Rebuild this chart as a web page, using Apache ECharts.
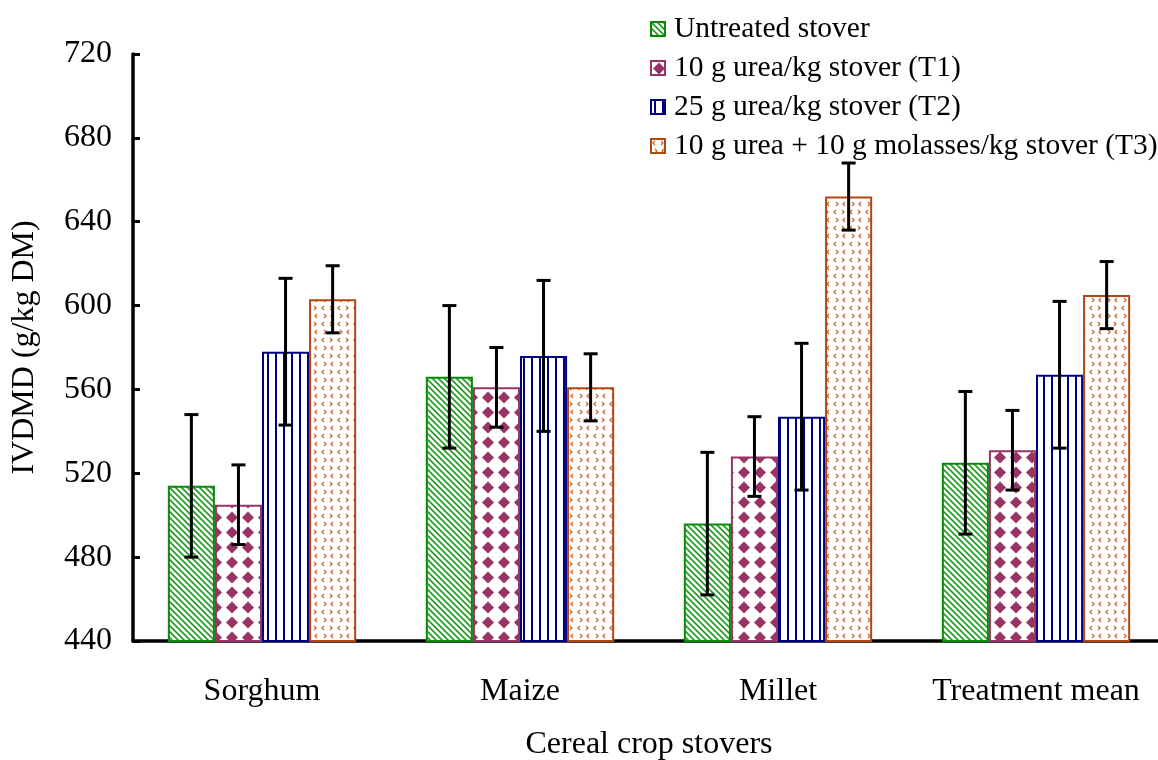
<!DOCTYPE html>
<html><head><meta charset="utf-8">
<script src="https://cdn.jsdelivr.net/npm/echarts@6/dist/echarts.min.js"></script>
<style>html,body{margin:0;padding:0;background:#fff}#c{width:1158px;height:760px}</style>
</head><body><div id="c"></div>
<script>
const categories = ['Sorghum', 'Maize', 'Millet', 'Treatment mean'];
const seriesNames = ['Untreated stover', '10 g urea/kg stover (T1)', '25 g urea/kg stover (T2)', '10 g urea + 10 g molasses/kg stover (T3)'];
const untreated = [514, 566, 496, 525];
const t1 = [505, 561, 528, 531];
const t2 = [578, 576, 547, 567];
const t3 = [603, 561, 652, 605];
const errUntreated = [34, 34, 34, 34];
const errT1 = [19, 19, 19, 19];
const errT2 = [35, 36, 35, 35];
const errT3 = [16, 16, 16, 16];
const yTicks = [440, 480, 520, 560, 600, 640, 680, 720];

const values = [untreated, t1, t2, t3];
const errors = [errUntreated, errT1, errT2, errT3];
const borderColors = ['#0a8a0a', '#993366', '#000080', '#b04610'];
const CAT_GAP = 0.27;
const FONT = '"Liberation Serif", "Times New Roman", serif';

function mk(w, h, draw) {
  const c = document.createElement('canvas');
  c.width = w; c.height = h;
  const g = c.getContext('2d');
  g.fillStyle = '#fff'; g.fillRect(0, 0, w, h);
  draw(g);
  return { image: c, repeat: 'repeat' };
}
const patterns = [
  mk(6, 6, g => {
    g.strokeStyle = '#1f9a1f'; g.lineWidth = 1.6;
    for (let k = -1; k <= 1; k++) { g.beginPath(); g.moveTo(k * 6 - 1, -1); g.lineTo(k * 6 + 7, 7); g.stroke(); }
  }),
  mk(16, 15, g => {
    g.fillStyle = '#993366';
    const dia = (cx, cy) => { g.beginPath(); g.moveTo(cx, cy - 6); g.lineTo(cx + 6, cy); g.lineTo(cx, cy + 6); g.lineTo(cx - 6, cy); g.closePath(); g.fill(); };
    dia(8, 7.5);
  }),
  mk(8, 8, g => {
    g.fillStyle = '#000080'; g.fillRect(3, 0, 2, 8);
  }),
  mk(16, 16, g => {
    g.strokeStyle = '#c8692e'; g.lineWidth = 1.3;
    const lt = (x, y) => { g.beginPath(); g.moveTo(x + 2, y - 2); g.lineTo(x, y); g.lineTo(x + 2, y + 2); g.stroke(); };
    const gt = (x, y) => { g.beginPath(); g.moveTo(x, y - 2); g.lineTo(x + 2, y); g.lineTo(x, y + 2); g.stroke(); };
    lt(2, 4); gt(10, 4); gt(4, 12); lt(11, 12);
  })
];

const series = [];
values.forEach((vals, k) => {
  series.push({
    name: seriesNames[k], type: 'bar', data: vals,
    barGap: '0%', barCategoryGap: (CAT_GAP * 100) + '%',
    itemStyle: { color: patterns[k], borderColor: borderColors[k], borderWidth: 2 },
    z: 2
  });
});
values.forEach((vals, k) => {
  series.push({
    type: 'custom', name: 'err' + k, z: 5, silent: true,
    data: vals.map((v, i) => [i, v - errors[k][i], v + errors[k][i]]),
    encode: { x: 0, y: [1, 2] },
    renderItem: (params, api) => {
      const i = api.value(0);
      const lo = api.coord([i, api.value(1)]);
      const hi = api.coord([i, api.value(2)]);
      const band = api.size([1, 0])[0];
      const bw = band * (1 - CAT_GAP) / 4;
      const x = lo[0] + (k - 1.5) * bw;
      const cap = 7;
      const st = { stroke: '#000', lineWidth: 3 };
      return { type: 'group', children: [
        { type: 'line', shape: { x1: x, y1: lo[1], x2: x, y2: hi[1] }, style: st },
        { type: 'line', shape: { x1: x - cap, y1: lo[1], x2: x + cap, y2: lo[1] }, style: st },
        { type: 'line', shape: { x1: x - cap, y1: hi[1], x2: x + cap, y2: hi[1] }, style: st }
      ]};
    }
  });
});

const chart = echarts.init(document.getElementById('c'), null, { renderer: 'canvas' });
chart.setOption({
  animation: false,
  backgroundColor: '#fff',
  textStyle: { fontFamily: FONT },
  grid: { left: 133, top: 54, bottom: 119, width: 1032, containLabel: false, outerBoundsMode: 'none' },
  legend: {
    data: seriesNames, orient: 'vertical', left: 645, top: 9,
    itemWidth: 14, itemHeight: 14, itemGap: 9,
    textStyle: { fontFamily: FONT, fontSize: 29.5, color: '#000', padding: [0, 0, 0, 4] },
    icon: 'rect'
  },
  xAxis: {
    type: 'category', data: categories,
    name: 'Cereal crop stovers', nameLocation: 'middle', nameGap: 88,
    nameTextStyle: { fontFamily: FONT, fontSize: 32, color: '#000' },
    axisLine: { lineStyle: { color: '#000', width: 3.5 } },
    axisTick: { inside: true, length: 8, lineStyle: { color: '#000', width: 3 } },
    axisLabel: { fontFamily: FONT, fontSize: 32, color: '#000', margin: 35, interval: 0, hideOverlap: false }
  },
  yAxis: {
    type: 'value', min: yTicks[0], max: yTicks[yTicks.length - 1], interval: 40,
    name: 'IVDMD (g/kg DM)', nameLocation: 'middle', nameGap: 92, nameRotate: 90,
    nameTextStyle: { fontFamily: FONT, fontSize: 32, color: '#000' },
    axisLine: { show: true, lineStyle: { color: '#000', width: 3.5 } },
    axisTick: { show: true, inside: true, length: 7, lineStyle: { color: '#000', width: 3 } },
    axisLabel: { fontFamily: FONT, fontSize: 32, color: '#000', margin: 21 },
    splitLine: { show: false }
  },
  series: series
});
</script>
</body></html>
